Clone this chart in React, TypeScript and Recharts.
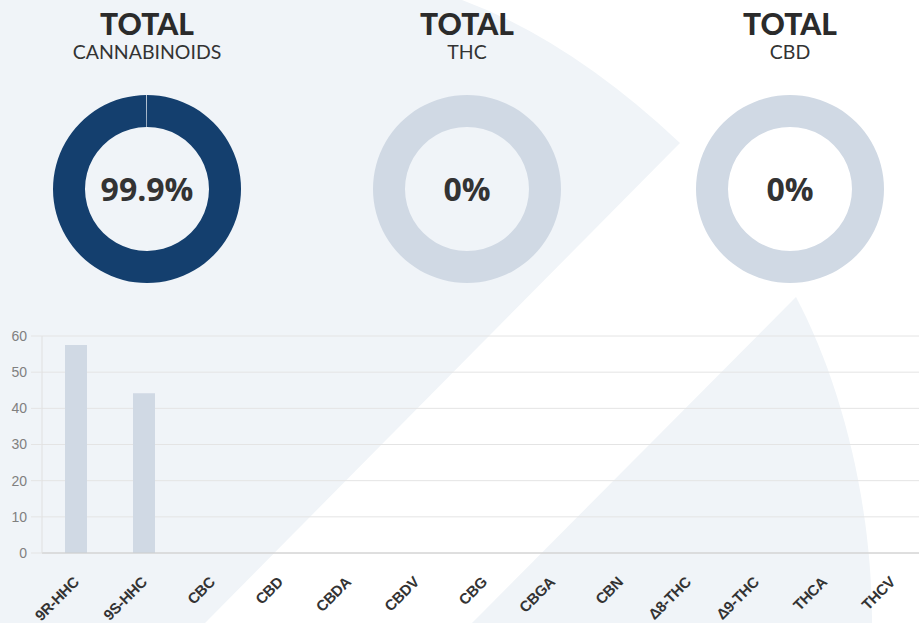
import React from "react";
import { PieChart, Pie, Cell, Label, BarChart, Bar, XAxis, YAxis, CartesianGrid } from "recharts";

// ---- data ----
const totalTitles = ["CANNABINOIDS", "THC", "CBD"];
const totalValues = [99.9, 0, 0];
const totalLabels = ["99.9%", "0%", "0%"];

const compounds = ["9R-HHC", "9S-HHC", "CBC", "CBD", "CBDA", "CBDV", "CBG", "CBGA", "CBN", "Δ8-THC", "Δ9-THC", "THCA", "THCV"];
const compoundValues = [57.5, 44.2, 0, 0, 0, 0, 0, 0, 0, 0, 0, 0, 0];
const yTicks = [0, 10, 20, 30, 40, 50, 60];

const barData = compounds.map((name, i) => ({ name, value: compoundValues[i] }));

const DARK = "#143f6e";
const LIGHT = "#d0d9e4";
const BG = "#f0f4f8";

const donutCenters = [147, 467, 790];

const XTick = (props: any) => {
  const { x, y, payload } = props;
  const ax = x + 4;
  const ay = y + 30;
  return (
    <text
      x={ax}
      y={ay}
      transform={`rotate(-45 ${ax} ${ay})`}
      textAnchor="end"
      fontSize={15}
      fontWeight="bold"
      fill="#333"
      letterSpacing={-0.3}
      fontFamily="'Liberation Sans', Arial, sans-serif"
    >
      {payload.value}
    </text>
  );
};

function Donut({ idx }: { idx: number }) {
  const v = totalValues[idx];
  const data = [
    { name: "value", value: v },
    { name: "rest", value: 100 - v },
  ];
  const cx = donutCenters[idx];
  return (
    <div style={{ position: "absolute", left: cx - 110, top: 79, width: 220, height: 220 }}>
      <PieChart width={220} height={220} margin={{ top: 0, right: 0, bottom: 0, left: 0 }}>
        <Pie
          data={data}
          dataKey="value"
          cx={110}
          cy={110}
          innerRadius={62}
          outerRadius={94}
          startAngle={90}
          endAngle={-270}
          stroke="none"
          isAnimationActive={false}
        >
          <Cell fill={DARK} />
          <Cell fill={LIGHT} />
          <Label
            position="center"
            content={() => (
              <text
                x={110}
                y={109}
                textAnchor="middle"
                dominantBaseline="central"
                fontSize={32}
                fontWeight="bold"
                fill="#333"
                fontFamily="'Open Sans', sans-serif"
              >
                {totalLabels[idx]}
              </text>
            )}
          />
        </Pie>
      </PieChart>
    </div>
  );
}

export default function App() {
  return (
    <div
      style={{
        position: "fixed",
        left: 0,
        top: 0,
        width: 919,
        height: 623,
        overflow: "hidden",
        background: "#fff",
      }}
    >
      <svg width={919} height={623} style={{ position: "absolute", left: 0, top: 0 }}>
        <path d="M0,0 L462,0 Q570,40 680,143 L205,623 L0,623 Z" fill={BG} />
        <path d="M796,297 C840,380 872,500 872,623 L472,623 Z" fill={BG} />
        {donutCenters.map((cx, i) => (
          <g key={i}>
            <text
              x={cx}
              y={35}
              textAnchor="middle"
              fontSize={30}
              fontWeight={900}
              fill="#2b2b2b"
              fontFamily="Lato, sans-serif"
            >
              TOTAL
            </text>
            <text
              x={cx}
              y={59}
              textAnchor="middle"
              fontSize={19.5}
              fontWeight={400}
              fill="#333"
              fontFamily="Lato, sans-serif"
            >
              {totalTitles[i]}
            </text>
          </g>
        ))}
      </svg>
      {donutCenters.map((_, i) => (
        <Donut key={i} idx={i} />
      ))}
      <div style={{ position: "absolute", left: 0, top: 320 }}>
        <BarChart width={926} height={303} data={barData} margin={{ top: 16, right: 0, bottom: 0, left: 0 }}>
          <CartesianGrid vertical={false} stroke="#e4e4e4" />
          <XAxis
            dataKey="name"
            interval={0}
            height={70}
            tickLine={false}
            tickSize={0}
            tickMargin={0}
            axisLine={{ stroke: "#cccccc" }}
            tick={<XTick />}
          />
          <YAxis
            width={42}
            domain={[0, 60]}
            ticks={yTicks}
            tickSize={11}
            tickMargin={4}
            tickLine={{ stroke: "#e4e4e4" }}
            axisLine={{ stroke: "#e0e0e0" }}
            tick={{ fontSize: 14, fill: "#808080", fontFamily: "'Liberation Sans', Arial, sans-serif" }}
          />
          <Bar dataKey="value" fill={LIGHT} barSize={22} isAnimationActive={false} />
        </BarChart>
      </div>
    </div>
  );
}
